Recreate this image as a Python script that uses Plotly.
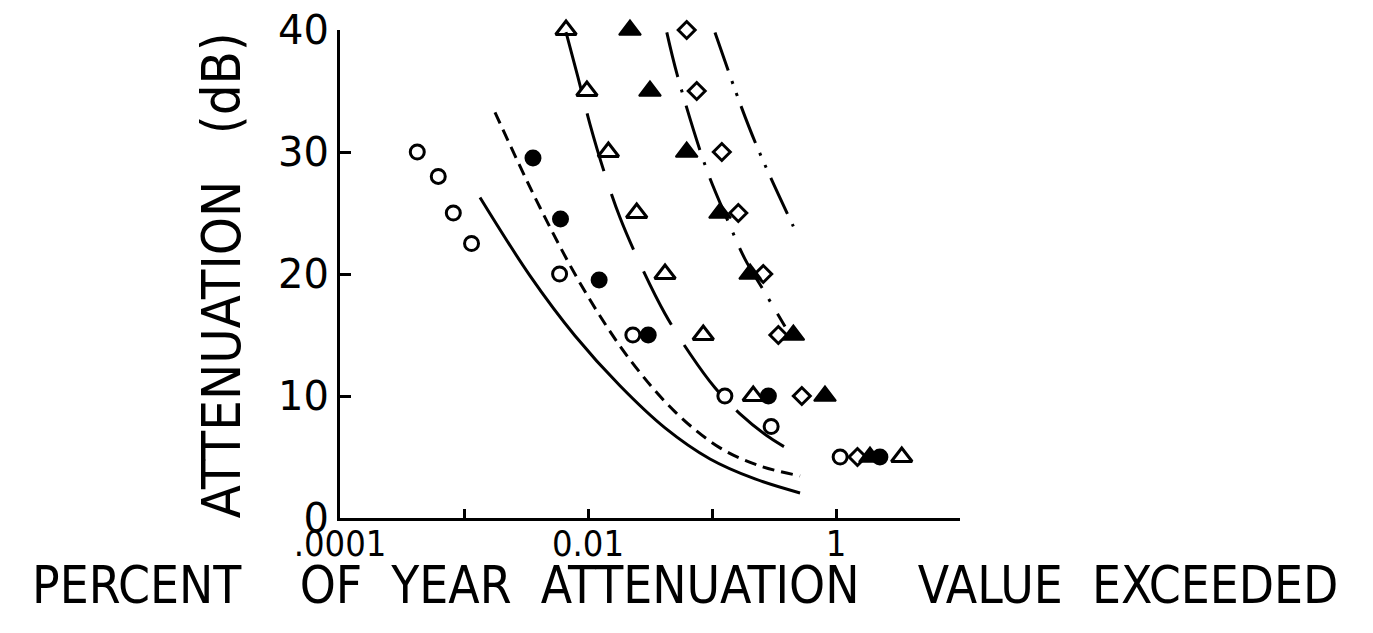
import plotly.graph_objects as go

# ---- data ----
open_circle_x = [4.2e-4, 6.2e-4, 8.2e-4, 1.15e-3, 5.9e-3, 0.023, 0.127, 0.30, 1.08]
open_circle_y = [30, 28, 25, 22.5, 20, 15, 10, 7.5, 5]

filled_circle_x = [3.6e-3, 6.0e-3, 0.0123, 0.0306, 0.285, 2.26]
filled_circle_y = [29.5, 24.5, 19.5, 15, 10, 5]

open_tri_x = [6.65e-3, 9.8e-3, 0.0146, 0.0247, 0.0418, 0.085, 0.215, 3.39]
open_tri_y = [40, 35, 30, 25, 20, 15, 10, 5]

filled_tri_x = [0.0218, 0.0316, 0.0625, 0.116, 0.203, 0.453, 0.815, 1.88]
filled_tri_y = [40, 35, 30, 25, 20, 15, 10, 5]

diamond_x = [0.0625, 0.0753, 0.12, 0.163, 0.259, 0.343, 0.53, 1.49]
diamond_y = [40, 35, 30, 25, 20, 15, 10, 5]

solid_x = [1.346e-3, 3.40e-3, 7.85e-3, 0.01811, 0.04178, 0.0964, 0.2223, 0.513]
solid_y = [26.27, 19.87, 14.94, 10.84, 7.39, 4.84, 3.20, 2.05]

short_dash_x = [1.778e-3, 4.10e-3, 9.46e-3, 0.02183, 0.0504, 0.1161, 0.2438, 0.513]
short_dash_y = [33.25, 25.45, 18.56, 12.97, 8.70, 5.75, 4.27, 3.45]

long_dash_x = [6.646e-3, 8.305e-3, 0.01038, 0.01346, 0.01811, 0.02626, 0.04178, 0.06646,
               0.1057, 0.1682, 0.2936, 0.5319]
long_dash_y = [39.82, 36.12, 32.27, 28.41, 24.63, 20.85, 16.75, 13.46, 10.67, 8.54, 6.57, 5.01]

dashdot_x = [0.0432, 0.0525, 0.0895, 0.135, 0.185, 0.259, 0.388]
dashdot_y = [39.8, 36.3, 28.7, 24.3, 21.2, 18.7, 15.7]

dashdotdot_x = [0.1057, 0.168, 0.236, 0.453]
dashdotdot_y = [39.8, 34.0, 30.2, 23.9]

x_tickvals = [1e-4, 1e-3, 1e-2, 1e-1, 1, 10]
x_ticktext = [".0001", "", "0.01", "", "1", ""]
y_tickvals = [0, 10, 20, 30, 40]
y_ticktext = ["0", "10", "20", "30", "40"]

NB = "\u00a0"
x_title = ("PERCENT" + NB * 4 + "OF" + NB * 2 + "YEAR" + NB * 2 + "ATTENUATION" + NB * 4 +
           "VALUE" + NB * 2 + "EXCEEDED")
y_title = "ATTENUATION" + NB * 3 + "(dB)"

BLACK = "#000000"
fig = go.Figure()

def line_trace(x, y, dash):
    fig.add_trace(go.Scatter(x=x, y=y, mode="lines",
                             line=dict(color=BLACK, width=3, dash=dash, shape="spline", smoothing=1.0),
                             hoverinfo="skip", showlegend=False, cliponaxis=False))

line_trace(solid_x, solid_y, "solid")
line_trace(short_dash_x, short_dash_y, "12px,7px")
line_trace(long_dash_x, long_dash_y, "60px,24px")
line_trace(dashdot_x, dashdot_y, "46px,13px,3px,14px")
line_trace(dashdotdot_x, dashdotdot_y, "40px,11px,3px,10px,3px,11px")

def marker_trace(x, y, symbol, size, lw):
    fig.add_trace(go.Scatter(x=x, y=y, mode="markers",
                             marker=dict(symbol=symbol, size=size, color=BLACK, line=dict(color=BLACK, width=lw)),
                             showlegend=False, cliponaxis=False))

marker_trace(open_circle_x, open_circle_y, "circle-open", 14, 3)
marker_trace(filled_circle_x, filled_circle_y, "circle", 17, 0)
marker_trace(open_tri_x, open_tri_y, "triangle-up-open", 18, 3)
marker_trace(filled_tri_x, filled_tri_y, "triangle-up", 19, 2)
marker_trace(diamond_x, diamond_y, "diamond-open", 13, 3)

# page body has an 8px default margin, so the figure is 16px smaller than the window
fig.update_layout(
    width=1357, height=617,
    margin=dict(l=332, r=405, t=22, b=107, autoexpand=False),
    paper_bgcolor="white", plot_bgcolor="white",
    showlegend=False,
    xaxis=dict(type="log", range=[-4, 1], tickvals=x_tickvals, ticktext=x_ticktext, automargin=False,
               showgrid=False, zeroline=False, showline=True, linecolor=BLACK, linewidth=3,
               ticks="inside", ticklen=9, tickwidth=3, tickcolor=BLACK, ticklabeloverflow="allow",
               ticklabelstandoff=-8,
               tickfont=dict(family="Liberation Sans Narrow, DejaVu Sans Condensed, sans-serif", size=36, color=BLACK)),
    yaxis=dict(range=[0, 40], tickvals=y_tickvals, ticktext=y_ticktext, automargin=False,
               showgrid=False, zeroline=False, showline=True, linecolor=BLACK, linewidth=3,
               ticks="inside", ticklen=11, tickwidth=3, tickcolor=BLACK, ticklabeloverflow="allow",
               tickfont=dict(family="DejaVu Sans, sans-serif", size=40, color=BLACK)),
    annotations=[
        dict(text=x_title, xref="paper", yref="paper", x=0.556, y=-0.139, xanchor="center", yanchor="middle",
             showarrow=False, font=dict(family="DejaVu Sans Condensed, sans-serif", size=51, color=BLACK)),
        dict(text=y_title, xref="paper", yref="paper", x=-0.19, y=0.498, xanchor="center", yanchor="middle",
             textangle=-90, showarrow=False, font=dict(family="DejaVu Sans Condensed, sans-serif", size=54, color=BLACK)),
    ],
)

fig.write_html("out.html")
